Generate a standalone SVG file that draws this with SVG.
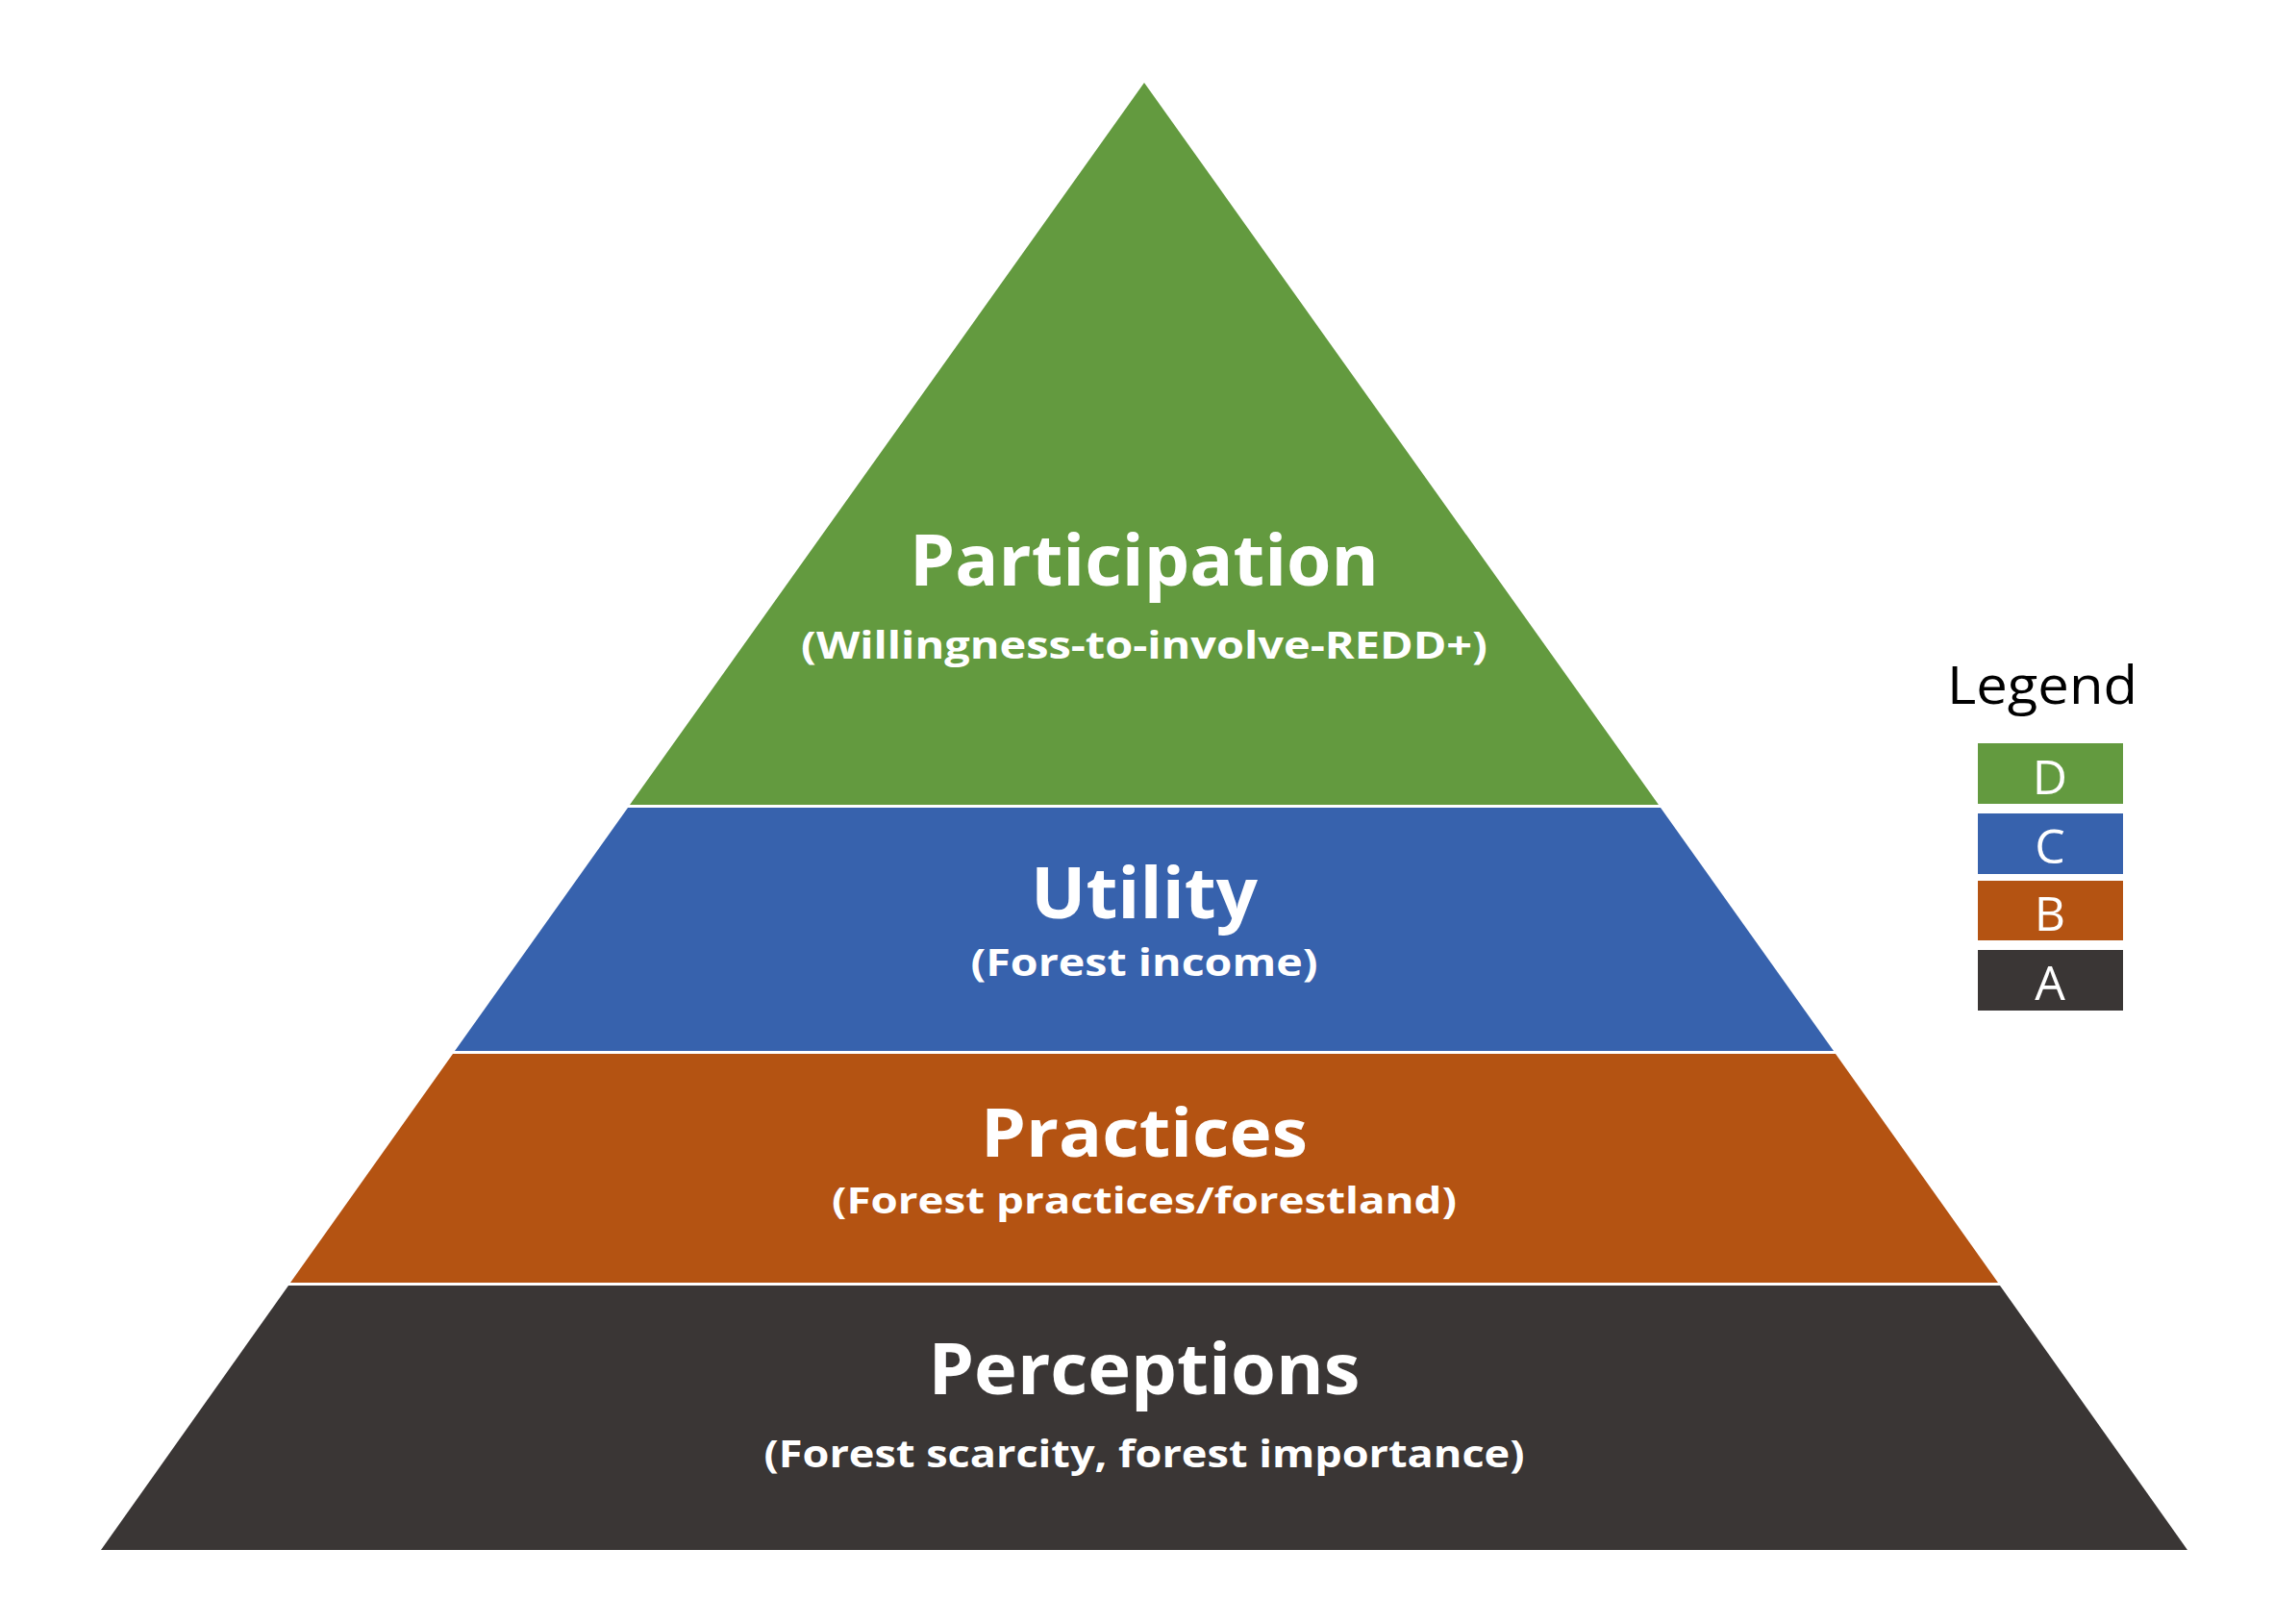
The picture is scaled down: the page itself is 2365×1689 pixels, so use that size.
<svg xmlns="http://www.w3.org/2000/svg" width="2365" height="1689" viewBox="0 0 2365 1689">
<style>
.t{font-family:"Open Sans","Liberation Sans",sans-serif;font-weight:bold;fill:#fff;text-anchor:middle}
.h{font-size:74px}
.s{font-size:40px}
.l{font-family:"Open Sans","Liberation Sans",sans-serif;fill:#fff;text-anchor:middle;font-size:50px}
</style>
<rect width="2365" height="1689" fill="#fff"/>
<g id="layerD"><polygon points="1190,86 1725,837 655,837" fill="#639A3F"/>
<text class="t h" x="1190" y="609" textLength="488" lengthAdjust="spacingAndGlyphs">Participation</text>
<text class="t s" x="1190" y="685" textLength="714" lengthAdjust="spacingAndGlyphs">(Willingness-to-involve-REDD+)</text></g>
<g id="layerC"><polygon points="653,840 1727,840 1907,1093 473,1093" fill="#3762AD"/>
<text class="t h" x="1190" y="955" textLength="236" lengthAdjust="spacingAndGlyphs">Utility</text>
<text class="t s" x="1190" y="1015" textLength="361" lengthAdjust="spacingAndGlyphs">(Forest income)</text></g>
<g id="layerB"><polygon points="471,1096 1909,1096 2078,1334 302,1334" fill="#B45312"/>
<text class="t" font-size="70" x="1190" y="1203" textLength="340" lengthAdjust="spacingAndGlyphs">Practices</text>
<text class="t" font-size="38" x="1190" y="1262" textLength="650" lengthAdjust="spacingAndGlyphs">(Forest practices/forestland)</text></g>
<g id="layerA"><polygon points="300,1337 2080,1337 2275,1612 105,1612" fill="#3A3635"/>
<text class="t h" x="1190" y="1450" textLength="449" lengthAdjust="spacingAndGlyphs">Perceptions</text>
<text class="t s" x="1190" y="1526" textLength="791" lengthAdjust="spacingAndGlyphs">(Forest scarcity, forest importance)</text></g>
<g id="legend">
<text x="2124" y="732" font-family="Open Sans,Liberation Sans,sans-serif" font-size="54" fill="#000" text-anchor="middle" textLength="198" lengthAdjust="spacingAndGlyphs">Legend</text>
<rect x="2057" y="773" width="151" height="63" fill="#639A3F"/><text class="l" x="2132" y="826">D</text>
<rect x="2057" y="846" width="151" height="63" fill="#3762AD"/><text class="l" x="2132" y="898">C</text>
<rect x="2057" y="916" width="151" height="62" fill="#B45312"/><text class="l" x="2132" y="968">B</text>
<rect x="2057" y="988" width="151" height="63" fill="#3A3635"/><text class="l" x="2132" y="1040">A</text>
</g>
<g id="connectors"/>
</svg>
